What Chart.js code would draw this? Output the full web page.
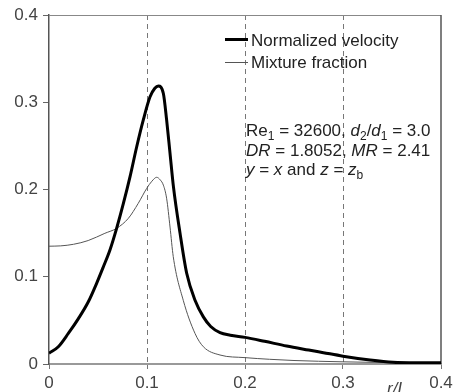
<!DOCTYPE html>
<html>
<head>
<meta charset="utf-8">
<script src="https://cdn.jsdelivr.net/npm/chart.js@4/dist/chart.umd.min.js"></script>
<style>
  html, body { margin: 0; padding: 0; background: #fff; }
  #wrap { width: 453px; height: 392px; }
</style>
</head>
<body>
<div id="wrap"><canvas id="chart" width="453" height="392"></canvas></div>
<script>
// normalized velocity
const velR = [0, 0.0095, 0.0197, 0.030, 0.040, 0.0486, 0.0555, 0.0622, 0.069, 0.0759, 0.0827, 0.0895, 0.0963, 0.103, 0.108, 0.1116, 0.1167, 0.120, 0.1235, 0.127, 0.1337, 0.1405, 0.149, 0.1575, 0.165, 0.1745, 0.185, 0.2, 0.22, 0.2425, 0.265, 0.28, 0.3, 0.3276, 0.351, 0.375, 0.4];
const velV = [0.0123, 0.0198, 0.035, 0.052, 0.071, 0.0925, 0.1115, 0.1307, 0.1555, 0.184, 0.2147, 0.249, 0.280, 0.306, 0.316, 0.3186, 0.310, 0.280, 0.2415, 0.203, 0.150, 0.104, 0.073, 0.054, 0.043, 0.036, 0.033, 0.0305, 0.026, 0.0206, 0.016, 0.013, 0.009, 0.0046, 0.002, 0.0015, 0.0015];

// mixture fraction
const mixR = [0, 0.012, 0.025, 0.040, 0.057, 0.069, 0.081, 0.091, 0.0997, 0.105, 0.1099, 0.1135, 0.1167, 0.120, 0.1235, 0.1268, 0.137, 0.149, 0.1575, 0.1745, 0.2, 0.225, 0.25, 0.3, 0.35, 0.4];
const mixV = [0.135, 0.1354, 0.1372, 0.1415, 0.1498, 0.1555, 0.167, 0.184, 0.2013, 0.2095, 0.214, 0.211, 0.205, 0.190, 0.157, 0.123, 0.073, 0.035, 0.0198, 0.0103, 0.0073, 0.0054, 0.004, 0.0025, 0.0015, 0.001];

const seriesNames = ['Normalized velocity', 'Mixture fraction'];
const axisTicks = [0, 0.1, 0.2, 0.3, 0.4];
const dashedAt = [0.1, 0.2, 0.3];

const FONT = '"Liberation Sans", Arial, Helvetica, sans-serif';

function toPoints(xs, ys) {
  return xs.map((x, i) => ({ x: x, y: ys[i] }));
}

function fmt(v) {
  return v === 0 ? '0' : v.toFixed(1);
}

// draw a run of text pieces: [text, style] where style is 'n', 'i' or 's' (subscript)
function drawRich(ctx, x, y, parts) {
  parts.forEach(p => {
    const [txt, st] = p;
    if (st === 's') {
      ctx.font = '12px ' + FONT;
      ctx.fillText(txt, x, y + 4);
    } else {
      ctx.font = (st === 'i' ? 'italic ' : '') + '17px ' + FONT;
      ctx.fillText(txt, x, y);
    }
    x += ctx.measureText(txt).width;
  });
}

const extras = {
  id: 'extras',
  beforeDatasetsDraw(chart) {
    const { ctx, chartArea: a, scales } = chart;
    ctx.save();
    ctx.strokeStyle = '#777';
    ctx.lineWidth = 1;
    ctx.setLineDash([5, 4]);
    dashedAt.forEach(v => {
      const px = Math.round(scales.x.getPixelForValue(v)) + 0.5;
      ctx.beginPath();
      ctx.moveTo(px, a.top);
      ctx.lineTo(px, a.bottom);
      ctx.stroke();
    });
    ctx.setLineDash([]);
    // top and right frame
    ctx.strokeStyle = '#888';
    ctx.beginPath();
    ctx.moveTo(a.left, a.top + 0.5);
    ctx.lineTo(a.right, a.top + 0.5);
    ctx.stroke();
    ctx.strokeStyle = '#555';
    ctx.lineWidth = 1.5;
    ctx.beginPath();
    ctx.moveTo(a.right, a.top);
    ctx.lineTo(a.right, a.bottom);
    ctx.stroke();
    ctx.restore();
  },
  afterDatasetsDraw(chart) {
    const { ctx } = chart;
    ctx.save();
    ctx.textBaseline = 'alphabetic';
    ctx.textAlign = 'left';

    // legend
    chart.data.datasets.forEach((ds, i) => {
      const ly = i === 0 ? 39.5 : 62.5;
      ctx.strokeStyle = ds.borderColor;
      ctx.lineWidth = ds.borderWidth;
      ctx.beginPath();
      ctx.moveTo(225, ly);
      ctx.lineTo(248, ly);
      ctx.stroke();
      ctx.fillStyle = '#222';
      ctx.font = '17px ' + FONT;
      ctx.fillText(ds.label, 251, i === 0 ? 46 : 68);
    });

    // case annotation
    ctx.fillStyle = '#222';
    drawRich(ctx, 246, 136, [['Re', 'n'], ['1', 's'], [' = 32600, ', 'n'], ['d', 'i'], ['2', 's'], ['/', 'n'], ['d', 'i'], ['1', 's'], [' = 3.0', 'n']]);
    drawRich(ctx, 246, 156, [['DR', 'i'], [' = 1.8052, ', 'n'], ['MR', 'i'], [' = 2.41', 'n']]);
    drawRich(ctx, 246, 175, [['y', 'i'], [' = ', 'n'], ['x', 'i'], [' and ', 'n'], ['z', 'i'], [' = ', 'n'], ['z', 'i'], ['b', 's']]);

    // axis label
    ctx.fillStyle = '#444';
    ctx.font = 'italic 17px ' + FONT;
    ctx.textAlign = 'center';
    ctx.fillText('r/L', 397, 394);
    ctx.restore();
  }
};

new Chart(document.getElementById('chart'), {
  type: 'line',
  data: {
    datasets: [
      {
        label: seriesNames[0],
        data: toPoints(velR, velV),
        borderColor: '#000',
        borderWidth: 3,
        pointRadius: 0,
        cubicInterpolationMode: 'monotone',
        fill: false
      },
      {
        label: seriesNames[1],
        data: toPoints(mixR, mixV),
        borderColor: '#555',
        borderWidth: 1,
        pointRadius: 0,
        cubicInterpolationMode: 'monotone',
        fill: false
      }
    ]
  },
  options: {
    responsive: false,
    animation: false,
    layout: { padding: { top: 15, right: 12, left: 0, bottom: 0 } },
    plugins: {
      legend: { display: false },
      tooltip: { enabled: false }
    },
    scales: {
      x: {
        type: 'linear',
        min: 0,
        max: 0.4,
        afterBuildTicks: s => { s.ticks = axisTicks.map(v => ({ value: v })); },
        afterFit: s => { s.height = 28; s.paddingLeft = 0; s.paddingRight = 0; },
        ticks: {
          autoSkip: false,
          maxRotation: 0,
          padding: 4,
          color: '#444',
          font: { family: FONT, size: 17 },
          callback: v => fmt(v)
        },
        grid: { drawOnChartArea: false, tickLength: 5, color: '#777' },
        border: { color: '#999', width: 2 }
      },
      y: {
        min: 0,
        max: 0.4,
        afterBuildTicks: s => { s.ticks = axisTicks.map(v => ({ value: v })); },
        afterFit: s => { s.width = 49; s.paddingTop = 0; s.paddingBottom = 0; },
        ticks: {
          padding: 5,
          color: '#444',
          font: { family: FONT, size: 17 },
          callback: v => fmt(v)
        },
        grid: { drawOnChartArea: false, tickLength: 6, color: '#666' },
        border: { color: '#555', width: 1.5 }
      }
    }
  },
  plugins: [extras]
});
</script>
</body>
</html>
